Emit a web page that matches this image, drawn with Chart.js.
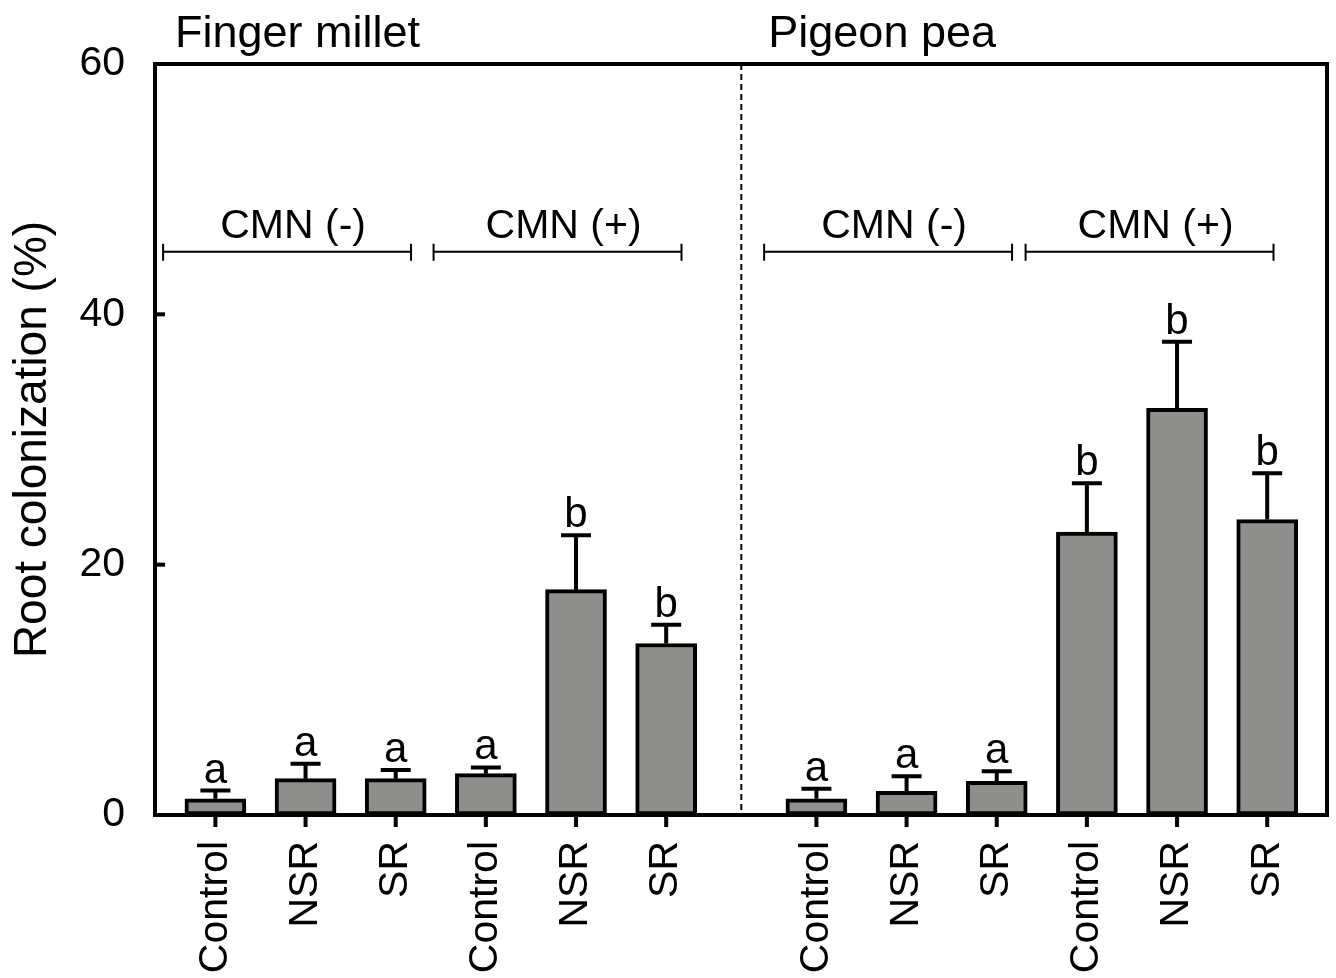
<!DOCTYPE html>
<html>
<head>
<meta charset="utf-8">
<script src="https://cdn.jsdelivr.net/npm/chart.js@4.4.1/dist/chart.umd.min.js"></script>
<style>
    body { margin: 0; background: #fff; }
    #wrap { width: 1336px; height: 978px; }
</style>
</head>
<body>
<div id="wrap"><canvas id="myChart"></canvas></div>
<script>
// values (root colonization, %)
var crops = ['Finger millet', 'Pigeon pea'];
var treatments = ['Control', 'NSR', 'SR'];
var cmnGroups = ['CMN (-)', 'CMN (+)'];
var fingerMillet = [1.3, 2.9, 2.9, 3.3, 18.0, 13.7];
var fingerMilletErr = [0.65, 1.2, 0.7, 0.5, 4.35, 1.5];
var fingerMilletLetters = ['a', 'a', 'a', 'a', 'b', 'b'];
var pigeonPea = [1.3, 1.9, 2.7, 22.6, 32.5, 23.6];
var pigeonPeaErr = [0.8, 1.2, 0.8, 3.9, 5.3, 3.7];
var pigeonPeaLetters = ['a', 'a', 'a', 'b', 'b', 'b'];
var yTicks = [0, 20, 40, 60];

var FONT = '"Liberation Sans", Arial, sans-serif';
var cropGap = 2 / 3; // extra space between the two crops, in bar units

// flatten everything into one row of 12 bars
var labels = [], values = [], errors = [], letters = [], xPos = [];
[fingerMillet, pigeonPea].forEach(function (crop, c) {
    var errs = c === 0 ? fingerMilletErr : pigeonPeaErr;
    var lets = c === 0 ? fingerMilletLetters : pigeonPeaLetters;
    for (var i = 0; i < crop.length; i++) {
        labels.push(treatments[i % 3]);
        values.push(crop[i]);
        errors.push(errs[i]);
        letters.push(lets[i]);
        xPos.push(c * (crop.length + cropGap) + i);
    }
});

var barData = xPos.map(function (x, i) { return { x: x, y: values[i] }; });

// error bars, letters, CMN brackets, crop titles, ticks and the frame
var extras = {
    id: 'extras',
    afterDatasetsDraw: function (chart) {
        var ctx = chart.ctx;
        var area = chart.chartArea;
        var xs = chart.scales.x;
        var ys = chart.scales.y;
        ctx.save();
        ctx.strokeStyle = '#000';
        ctx.fillStyle = '#000';

        // error bars (upper only) + significance letters
        ctx.lineWidth = 4;
        ctx.textAlign = 'center';
        ctx.textBaseline = 'alphabetic';
        ctx.font = '42px ' + FONT;
        for (var i = 0; i < values.length; i++) {
            var px = xs.getPixelForValue(xPos[i]);
            var yTop = ys.getPixelForValue(values[i]);
            var yErr = ys.getPixelForValue(values[i] + errors[i]);
            ctx.beginPath();
            ctx.moveTo(px, yTop);
            ctx.lineTo(px, yErr);
            ctx.moveTo(px - 15, yErr);
            ctx.lineTo(px + 15, yErr);
            // outward x tick under the bar
            ctx.moveTo(px, area.bottom);
            ctx.lineTo(px, area.bottom + 12);
            ctx.stroke();
            ctx.fillText(letters[i], px, yErr - 8);
        }

        // dashed divider between the crops
        var divX = xs.getPixelForValue((xPos[5] + xPos[6]) / 2);
        ctx.lineWidth = 2;
        ctx.setLineDash([6, 4]);
        ctx.beginPath();
        ctx.moveTo(divX, area.top);
        ctx.lineTo(divX, area.bottom);
        ctx.stroke();
        ctx.setLineDash([]);

        // CMN brackets over each set of three bars
        var by = ys.getPixelForValue(45);
        ctx.font = '41px ' + FONT;
        for (var g = 0; g < 4; g++) {
            var shift = g === 3 ? -0.1 : 0;
            var x1 = xs.getPixelForValue(xPos[g * 3] - 0.58 + shift);
            var x2 = xs.getPixelForValue(xPos[g * 3 + 2] + 0.17 + shift);
            ctx.lineWidth = 2;
            ctx.beginPath();
            ctx.moveTo(x1, by);
            ctx.lineTo(x2, by);
            ctx.moveTo(x1, by - 8);
            ctx.lineTo(x1, by + 9);
            ctx.moveTo(x2, by - 8);
            ctx.lineTo(x2, by + 9);
            ctx.stroke();
            ctx.fillText(cmnGroups[g % 2], (x1 + x2) / 2 + 6, by - 14);
        }

        // crop titles above the frame
        ctx.textAlign = 'left';
        ctx.font = '45px ' + FONT;
        ctx.fillText(crops[0], area.left + 20, area.top - 17);
        ctx.fillText(crops[1], divX + 27, area.top - 17);

        // inward y ticks
        ctx.lineWidth = 4;
        yTicks.forEach(function (v) {
            var py = ys.getPixelForValue(v);
            ctx.beginPath();
            ctx.moveTo(area.left, py);
            ctx.lineTo(area.left + 10, py);
            ctx.stroke();
        });

        // frame
        ctx.lineWidth = 4;
        ctx.strokeRect(area.left, area.top, area.right - area.left, area.bottom - area.top);
        ctx.restore();
    }
};

function createChart() {
    var ctx = document.getElementById('myChart').getContext('2d');
    new Chart(ctx, {
        type: 'bar',
        data: {
            datasets: [{
                data: barData,
                backgroundColor: '#8e8e8d',
                borderColor: '#000',
                borderWidth: 4,
                borderSkipped: false,
                barThickness: 61
            }]
        },
        options: {
            responsive: true,
            maintainAspectRatio: false,
            animation: false,
            layout: { padding: { top: 64, right: 9, left: 0, bottom: 0 } },
            plugins: { legend: { display: false }, tooltip: { enabled: false } },
            scales: {
                x: {
                    type: 'linear',
                    offset: false,
                    min: -0.67,
                    max: 12.33,
                    afterBuildTicks: function (scale) {
                        scale.ticks = xPos.map(function (v) { return { value: v }; });
                    },
                    afterFit: function (scale) {
                        scale.height = 978 - 815;
                        scale.paddingLeft = 0;
                        scale.paddingRight = 0;
                    },
                    border: { display: false },
                    grid: { display: false },
                    ticks: {
                        autoSkip: false,
                        minRotation: 90,
                        maxRotation: 90,
                        padding: 18,
                        color: '#000',
                        font: { family: FONT, size: 41 },
                        callback: function (value, index) { return labels[index]; }
                    }
                },
                y: {
                    min: 0,
                    max: 60,
                    afterBuildTicks: function (scale) {
                        scale.ticks = yTicks.map(function (v) { return { value: v }; });
                    },
                    afterFit: function (scale) { scale.width = 155; },
                    border: { display: false },
                    grid: { display: false },
                    ticks: { padding: 22, color: '#000', font: { family: FONT, size: 41 } },
                    title: {
                        display: true,
                        text: 'Root colonization (%)',
                        color: '#000',
                        font: { family: FONT, size: 46 },
                        padding: { top: 6, bottom: 0 }
                    }
                }
            }
        },
        plugins: [extras]
    });
}

createChart();
</script>
</body>
</html>
